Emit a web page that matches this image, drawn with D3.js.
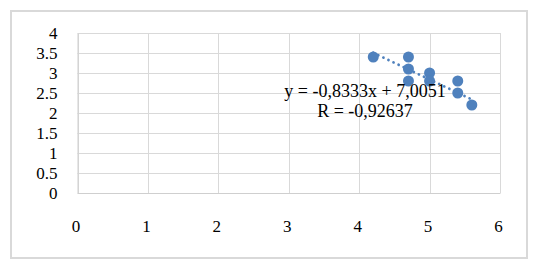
<!DOCTYPE html>
<html><head><meta charset="utf-8">
<script src="https://cdn.jsdelivr.net/npm/d3@7/dist/d3.min.js"></script>
<style>html,body{margin:0;padding:0;background:#fff;}svg{display:block;}</style>
</head><body>
<script>
const xValues = [4.2, 4.7, 4.7, 4.7, 5.0, 5.0, 5.4, 5.4, 5.6];
const yValues = [3.4, 3.4, 3.1, 2.8, 3.0, 2.8, 2.8, 2.5, 2.2];
const xTicks = [0, 1, 2, 3, 4, 5, 6];
const yTicks = [0, 0.5, 1, 1.5, 2, 2.5, 3, 3.5, 4];
const trendSlope = -0.8333;
const trendIntercept = 7.0051;
const equationLabel = "y = -0,8333x + 7,0051";
const rLabel = "R = -0,92637";

const W = 539, H = 273;
const svg = d3.select("body").append("svg").attr("width", W).attr("height", H);
svg.append("rect").attr("width", W).attr("height", H).attr("fill", "#fff");
svg.append("rect").attr("x", 11).attr("y", 11).attr("width", 516).attr("height", 247)
  .attr("fill", "#fff").attr("stroke", "#d9d9d9").attr("stroke-width", 2);

const m = {l: 77.5, r: 500, t: 33, b: 193};
const x = d3.scaleLinear().domain([0, 6]).range([m.l, m.r]);
const y = d3.scaleLinear().domain([0, 4]).range([m.b, m.t]);
const font = "'Liberation Serif','Times New Roman',serif";

// gridlines
svg.append("g").selectAll("line").data(yTicks).join("line")
  .attr("x1", m.l).attr("x2", m.r)
  .attr("y1", d => Math.round(y(d)) + 0.5).attr("y2", d => Math.round(y(d)) + 0.5)
  .attr("stroke", "#d9d9d9").attr("stroke-width", 1);
svg.append("g").selectAll("line").data(xTicks).join("line")
  .attr("y1", m.t).attr("y2", m.b)
  .attr("x1", d => Math.round(x(d)) + 0.5).attr("x2", d => Math.round(x(d)) + 0.5)
  .attr("stroke", "#d9d9d9").attr("stroke-width", 1);

// axes
const yAxis = d3.axisLeft(y).tickValues(yTicks).tickSize(0).tickPadding(20).tickFormat(d3.format("~g"));
const gy = svg.append("g").attr("transform", `translate(${m.l},0)`).call(yAxis);
gy.select(".domain").attr("stroke", "#cfcfcf");
gy.selectAll("text").attr("font-family", font).attr("font-size", 17).attr("fill", "#000").attr("dy", "0.33em");

const xAxis = d3.axisBottom(x).tickValues(xTicks).tickSize(0).tickPadding(27).tickFormat(d3.format("d"));
const gx = svg.append("g").attr("transform", `translate(0,${m.b})`).call(xAxis);
gx.select(".domain").attr("stroke", "#cfcfcf");
gx.selectAll("text").attr("font-family", font).attr("font-size", 17).attr("fill", "#000").attr("dx", "-2");

// trendline
const tx = d3.extent(xValues);
svg.append("line")
  .attr("x1", x(tx[0])).attr("y1", y(trendSlope * tx[0] + trendIntercept))
  .attr("x2", x(tx[1])).attr("y2", y(trendSlope * tx[1] + trendIntercept))
  .attr("stroke", "#4F81BD").attr("stroke-width", 2.8)
  .attr("stroke-linecap", "round").attr("stroke-dasharray", "0.01 5.6");

// points
svg.append("g").selectAll("circle").data(xValues.map((d, i) => [d, yValues[i]])).join("circle")
  .attr("cx", d => x(d[0])).attr("cy", d => y(d[1])).attr("r", 5.5)
  .attr("fill", "#4F81BD");

// trendline label
const lbl = svg.append("text").attr("font-family", font).attr("font-size", 18).attr("fill", "#000")
  .attr("text-anchor", "middle");
lbl.append("tspan").attr("x", 365).attr("y", 96.5).text(equationLabel);
lbl.append("tspan").attr("x", 365).attr("y", 116.5).text(rLabel);
</script>
</body></html>
